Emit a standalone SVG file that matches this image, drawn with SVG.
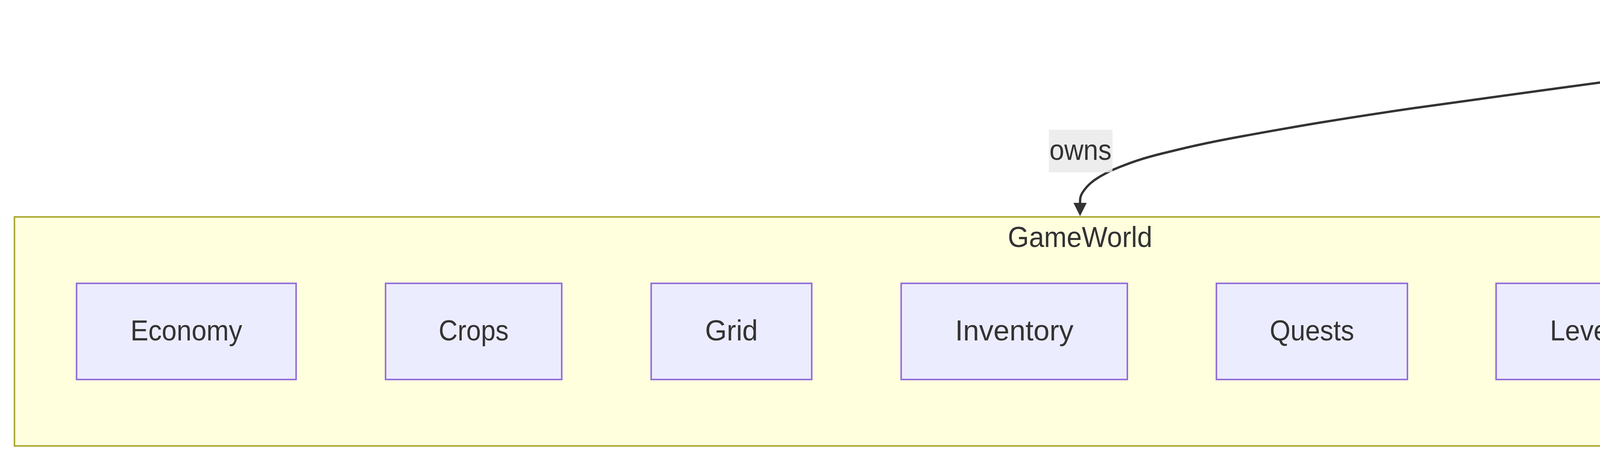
<svg xmlns="http://www.w3.org/2000/svg" width="7840" height="1200" viewBox="0 0 7840 1200">
<style>
.bg{fill:#ffffff}
.cluster rect{fill:#ffffde;stroke:#aaaa33;stroke-width:4}
.node rect{fill:#ececff;stroke:#9370db;stroke-width:4}
text{font-family:"Liberation Sans",Arial,sans-serif;font-size:75px;fill:#333333;text-anchor:middle}
.edge{fill:none;stroke:#333333;stroke-width:6}
.lbl rect{fill:#e8e8e8;fill-opacity:0.8}
</style>
<defs>
<marker id="arrow" viewBox="0 0 10 10" refX="0" refY="5" markerUnits="userSpaceOnUse" markerWidth="34" markerHeight="36" orient="auto">
<path d="M0,0 L10,5 L0,10 z" fill="#333333"/>
</marker>
</defs>
<rect class="bg" x="0" y="0" width="7840" height="1200"/>
<g id="cluster-GameWorld" class="cluster">
<rect x="37" y="555" width="5458" height="586"/>
<text x="2765" y="632" textLength="370" lengthAdjust="spacingAndGlyphs">GameWorld</text>
</g>
<g id="cluster-GameRenderer" class="cluster">
<rect x="5722" y="555" width="2001" height="586"/>
<text x="6722" y="632" textLength="480" lengthAdjust="spacingAndGlyphs">GameRenderer</text>
</g>
<g id="node-GameManager" class="node">
<rect x="4442" y="37" width="605" height="180"/>
<text x="4744.5" y="151" textLength="458" lengthAdjust="spacingAndGlyphs">GameManager</text>
</g>
<g id="node-Economy" class="node">
<rect x="196" y="725" width="562" height="246"/>
<text x="477" y="871" textLength="286" lengthAdjust="spacingAndGlyphs">Economy</text>
</g>
<g id="node-Crops" class="node">
<rect x="987" y="725" width="451" height="246"/>
<text x="1212.5" y="871" textLength="179" lengthAdjust="spacingAndGlyphs">Crops</text>
</g>
<g id="node-Grid" class="node">
<rect x="1667" y="725" width="411" height="246"/>
<text x="1872.5" y="871" textLength="135" lengthAdjust="spacingAndGlyphs">Grid</text>
</g>
<g id="node-Inventory" class="node">
<rect x="2307" y="725" width="579" height="246"/>
<text x="2596.5" y="871" textLength="303" lengthAdjust="spacingAndGlyphs">Inventory</text>
</g>
<g id="node-Quests" class="node">
<rect x="3114" y="725" width="489" height="246"/>
<text x="3358.5" y="871" textLength="216" lengthAdjust="spacingAndGlyphs">Quests</text>
</g>
<g id="node-Levels" class="node">
<rect x="3830" y="725" width="476" height="246"/>
<text x="4068" y="871" textLength="200" lengthAdjust="spacingAndGlyphs">Levels</text>
</g>
<g id="node-EventDispatcher" class="node">
<rect x="4534" y="725" width="802" height="246"/>
<text x="4935" y="871" textLength="526" lengthAdjust="spacingAndGlyphs">EventDispatcher</text>
</g>
<g id="node-RenderNodes" class="node">
<rect x="5882" y="725" width="695" height="246"/>
<text x="6229.5" y="871" textLength="421" lengthAdjust="spacingAndGlyphs">RenderNodes</text>
</g>
<g id="node-RenderSystems" class="node">
<rect x="6806" y="725" width="758" height="246"/>
<text x="7185" y="871" textLength="483" lengthAdjust="spacingAndGlyphs">RenderSystems</text>
</g>
<g id="connectors">
<path id="edge-owns" class="edge" marker-end="url(#arrow)" d="M4440,165 C4302.8,183.7 3825.5,246.7 3617,277 C3408.5,307.3 3296.2,327.7 3189,347 C3081.8,366.3 3027.7,379.7 2974,393 C2920.3,406.3 2895.5,415.8 2867,427 C2838.5,438.2 2819,449 2803,460 C2787,471 2777.3,483.2 2771,493 C2764.7,502.8 2765,510 2765,519"/>
<path id="edge-observes" class="edge" marker-end="url(#arrow)" d="M5048,165 C5185.2,183.7 5662.5,246.7 5871,277 C6079.5,307.3 6191.8,327.7 6299,347 C6406.2,366.3 6460.3,379.7 6514,393 C6567.7,406.3 6592.5,415.8 6621,427 C6649.5,438.2 6669,449 6685,460 C6701,471 6710.7,483.2 6717,493 C6723.3,502.8 6723,510 6723,519"/>
<g id="label-owns" class="lbl">
<rect x="2685" y="332" width="163" height="109"/>
<text x="2766" y="409" textLength="159" lengthAdjust="spacingAndGlyphs">owns</text>
</g>
<g id="label-observes" class="lbl">
<rect x="6582" y="332" width="281" height="109"/>
<text x="6723" y="409" textLength="278" lengthAdjust="spacingAndGlyphs">observes</text>
</g>
</g>
</svg>
